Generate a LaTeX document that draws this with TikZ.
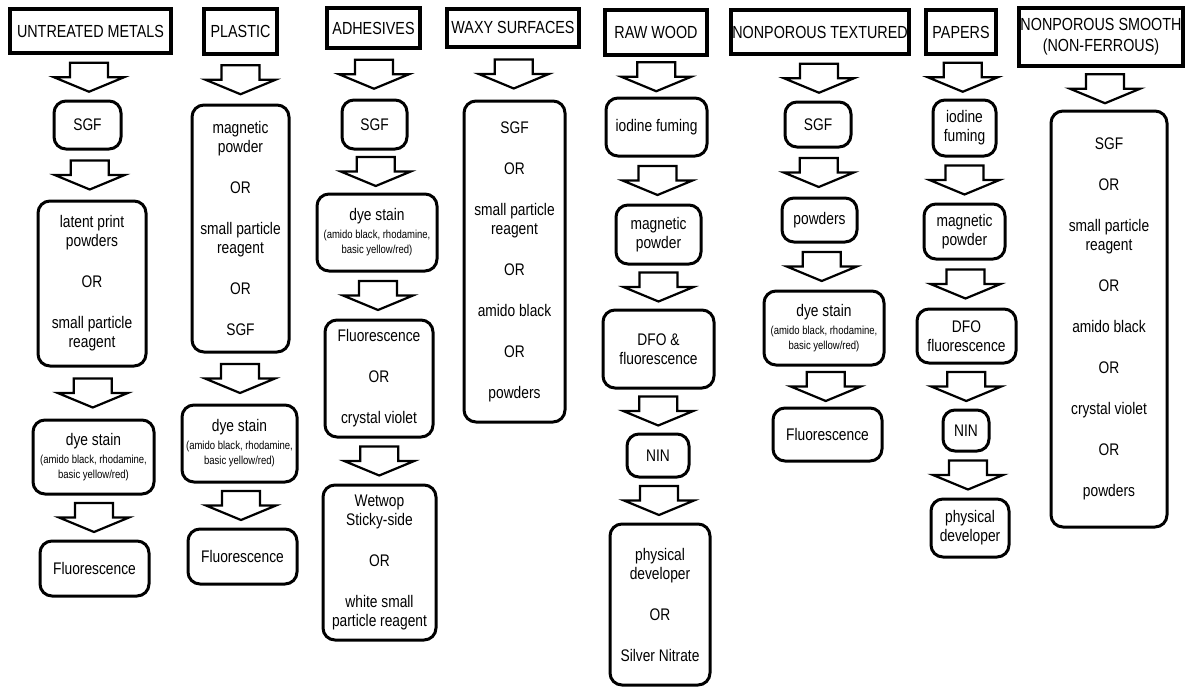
\documentclass[tikz,border=0pt]{standalone}
\usepackage{fontspec}
\setmainfont{Liberation Sans}[FakeStretch=0.82]
\usepackage{tikz}
\usetikzlibrary{calc}
\newcommand{\hdfont}{\fontsize{17.5}{21}\selectfont}
\newcommand{\bodyfont}{\fontsize{16.8}{19}\selectfont}
\newcommand{\notefont}{\fontsize{11.6}{14}\selectfont}
\newcommand{\dyetext}{dye stain\\[-1pt]{\notefont(amido black, rhodamine,}\\[-4pt]{\notefont basic yellow/red)}}

\begin{document}
\begin{tikzpicture}
          [x=1pt,y=-1pt,
           head/.style={draw=black,line width=4pt,inner sep=0pt,align=center,font=\hdfont},
           stage/.style={draw=black,line width=3pt,rounded corners=12pt,inner sep=0pt,align=center,font=\bodyfont},
           flow/.style={draw=black,fill=white,line width=2.2pt,line join=miter}]
          \useasboundingbox (0,0) rectangle (1186,688);

          \node[head,minimum width=161,minimum height=44] (h1) at (90.5,31) {UNTREATED METALS};
          \node[stage,minimum width=67,minimum height=48] (a1) at (87.5,125) {SGF};
          \node[stage,minimum width=108,minimum height=165] (b1) at (92,283.5)
            {latent print\\powders\\[22pt]OR\\[22pt]small particle\\reagent};
          \node[stage,minimum width=121,minimum height=74] (c1) at (93.5,457) {\dyetext};
          \node[stage,minimum width=109,minimum height=55] (d1) at (94.5,568.5) {Fluorescence};

          \node[head,minimum width=73,minimum height=45] (h2) at (240.5,31.5) {PLASTIC};
          \node[stage,minimum width=97,minimum height=247] (a2) at (240.5,228.5)
            {magnetic\\powder\\[22pt]OR\\[22pt]small particle\\reagent\\[22pt]OR\\[22pt]SGF};
          \node[stage,minimum width=115,minimum height=77] (b2) at (239.5,443.5) {\dyetext};
          \node[stage,minimum width=109,minimum height=55] (c2) at (242.5,556.5) {Fluorescence};

          \node[head,minimum width=93,minimum height=40] (h3) at (373.5,28) {ADHESIVES};
          \node[stage,minimum width=65,minimum height=49] (a3) at (374.5,124.5) {SGF};
          \node[stage,minimum width=120,minimum height=77] (b3) at (377,232.5) {\dyetext};
          \node[stage,minimum width=108,minimum height=117] (c3) at (379,378.5)
            {Fluorescence\\[22pt]OR\\[22pt]crystal violet};
          \node[stage,minimum width=113,minimum height=155] (d3) at (379.5,562.5)
            {Wetwop\\Sticky-side\\[22pt]OR\\[22pt]white small\\particle reagent};

          \node[head,minimum width=132,minimum height=38] (h4) at (513,27.5) {WAXY SURFACES};
          \node[stage,minimum width=101,minimum height=321] (a4) at (514.5,261.5)
            {SGF\\[22pt]OR\\[22pt]small particle\\reagent\\[22pt]OR\\[22pt]amido black\\[22pt]OR\\[22pt]powders};

          \node[head,minimum width=102,minimum height=45] (h5) at (656,32.5) {RAW WOOD};
          \node[stage,minimum width=101,minimum height=58] (a5) at (656.5,127) {iodine fuming};
          \node[stage,minimum width=85,minimum height=59] (b5) at (658.5,234.5) {magnetic\\powder};
          \node[stage,minimum width=111,minimum height=78] (c5) at (658.5,349) {DFO \&\\fluorescence};
          \node[stage,minimum width=62,minimum height=43] (d5) at (658,455.5) {NIN};
          \node[stage,minimum width=100,minimum height=161] (e5) at (660,604.5)
            {physical\\developer\\[22pt]OR\\[22pt]Silver Nitrate};

          \node[head,minimum width=178,minimum height=44] (h6) at (820,32) {NONPOROUS TEXTURED};
          \node[stage,minimum width=66,minimum height=45] (a6) at (818,124.5) {SGF};
          \node[stage,minimum width=75,minimum height=44] (b6) at (819.5,220) {powders};
          \node[stage,minimum width=120,minimum height=74] (c6) at (824,328) {\dyetext};
          \node[stage,minimum width=109,minimum height=53] (d6) at (827.5,434.5) {Fluorescence};

          \node[head,minimum width=70,minimum height=44] (h7) at (961,32) {PAPERS};
          \node[stage,minimum width=63,minimum height=56] (a7) at (964.5,128) {iodine\\fuming};
          \node[stage,minimum width=81,minimum height=55] (b7) at (964.5,231.5) {magnetic\\powder};
          \node[stage,minimum width=99,minimum height=54] (c7) at (966.5,336) {DFO\\fluorescence};
          \node[stage,minimum width=46,minimum height=41] (d7) at (966,430.5) {NIN};
          \node[stage,minimum width=78,minimum height=58] (e7) at (970,528) {physical\\developer};

          \node[head,minimum width=164,minimum height=58] (h8) at (1101,37) {NONPOROUS SMOOTH\\(NON-FERROUS)};
          \node[stage,minimum width=116,minimum height=416] (a8) at (1109,319)
            {SGF\\[22pt]OR\\[22pt]small particle\\reagent\\[22pt]OR\\[22pt]amido black\\[22pt]OR\\[22pt]crystal violet\\[22pt]OR\\[22pt]powders};

          \foreach \from/\to in {h1/a1,a1/b1,b1/c1,c1/d1,h2/a2,a2/b2,b2/c2,
                                 h3/a3,a3/b3,b3/c3,c3/d3,h4/a4,
                                 h5/a5,a5/b5,b5/c5,c5/d5,d5/e5,
                                 h6/a6,a6/b6,b6/c6,c6/d6,
                                 h7/a7,a7/b7,b7/c7,c7/d7,d7/e7,h8/a8}
            \draw[flow] ($(\from.south)!.5!(\to.north)$) ++(-19,-14.5) -- ++(38,0) -- ++(0,14.5)
              -- ++(16,0) -- ++(-35,14.5) -- ++(-35,-14.5) -- ++(16,0) -- cycle;

        \end{tikzpicture}
\end{document}
